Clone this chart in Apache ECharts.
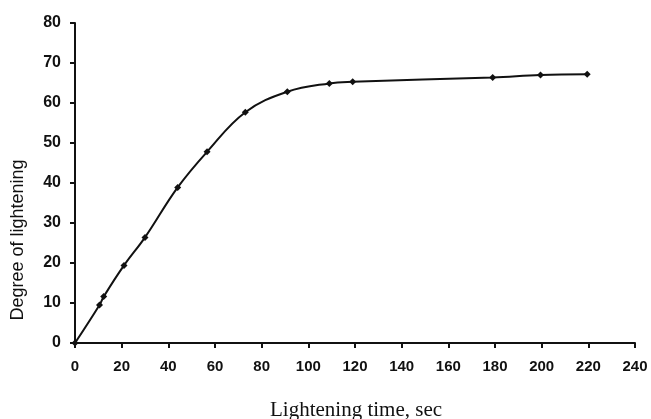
<!DOCTYPE html>
<html>
<head>
<meta charset="utf-8">
<script src="https://cdn.jsdelivr.net/npm/echarts@6/dist/echarts.min.js"></script>
<style>html,body{margin:0;padding:0;background:#fff}#c{width:651px;height:419px}</style>
</head>
<body>
<div id="c"></div>
<script>
const timeSec = [0, 10.5, 12.3, 21, 30, 44, 56.6, 73, 91, 109, 119, 179, 199.5, 219.5];
const lightening = [0, 9.5, 11.6, 19.4, 26.4, 38.9, 47.8, 57.7, 62.8, 64.9, 65.3, 66.4, 67, 67.2];
const xTitle = 'Lightening time, sec';
const yTitle = 'Degree of lightening';

const pts = timeSec.map((t, i) => [t, lightening[i]]);
const chart = echarts.init(document.getElementById('c'), null, {renderer: 'canvas'});
const labelFont = {color: '#111', fontFamily: 'Liberation Sans, Arial', fontWeight: 'bold'};
chart.setOption({
  animation: false,
  backgroundColor: '#fff',
  grid: {left: 75, right: 16, top: 23, bottom: 76},
  xAxis: {
    type: 'value', min: 0, max: 240, interval: 20,
    axisLine: {show: true, lineStyle: {color: '#111', width: 2}},
    axisTick: {show: true, length: 5, lineStyle: {color: '#111', width: 2}},
    splitLine: {show: false},
    axisLabel: Object.assign({margin: 16, fontSize: 15}, labelFont)
  },
  yAxis: {
    type: 'value', min: 0, max: 80, interval: 10,
    axisLine: {show: true, lineStyle: {color: '#111', width: 2}},
    axisTick: {show: true, length: 5, lineStyle: {color: '#111', width: 2}},
    splitLine: {show: false},
    axisLabel: Object.assign({margin: 14, fontSize: 16}, labelFont)
  },
  graphic: [
    {type: 'text', x: 356, y: 410, style: {text: xTitle, fill: '#111', font: '21px "Liberation Serif", "Times New Roman", serif', align: 'center', verticalAlign: 'middle'}},
    {type: 'text', x: 18, y: 240, rotation: Math.PI / 2, style: {text: yTitle, fill: '#111', font: '18px "Liberation Sans", Arial, sans-serif', align: 'center', verticalAlign: 'middle'}}
  ],
  series: [{
    type: 'line', data: pts, smooth: 0.4,
    symbol: 'diamond', symbolSize: 7,
    lineStyle: {color: '#111', width: 2},
    itemStyle: {color: '#111'}
  }]
});
</script>
</body>
</html>
